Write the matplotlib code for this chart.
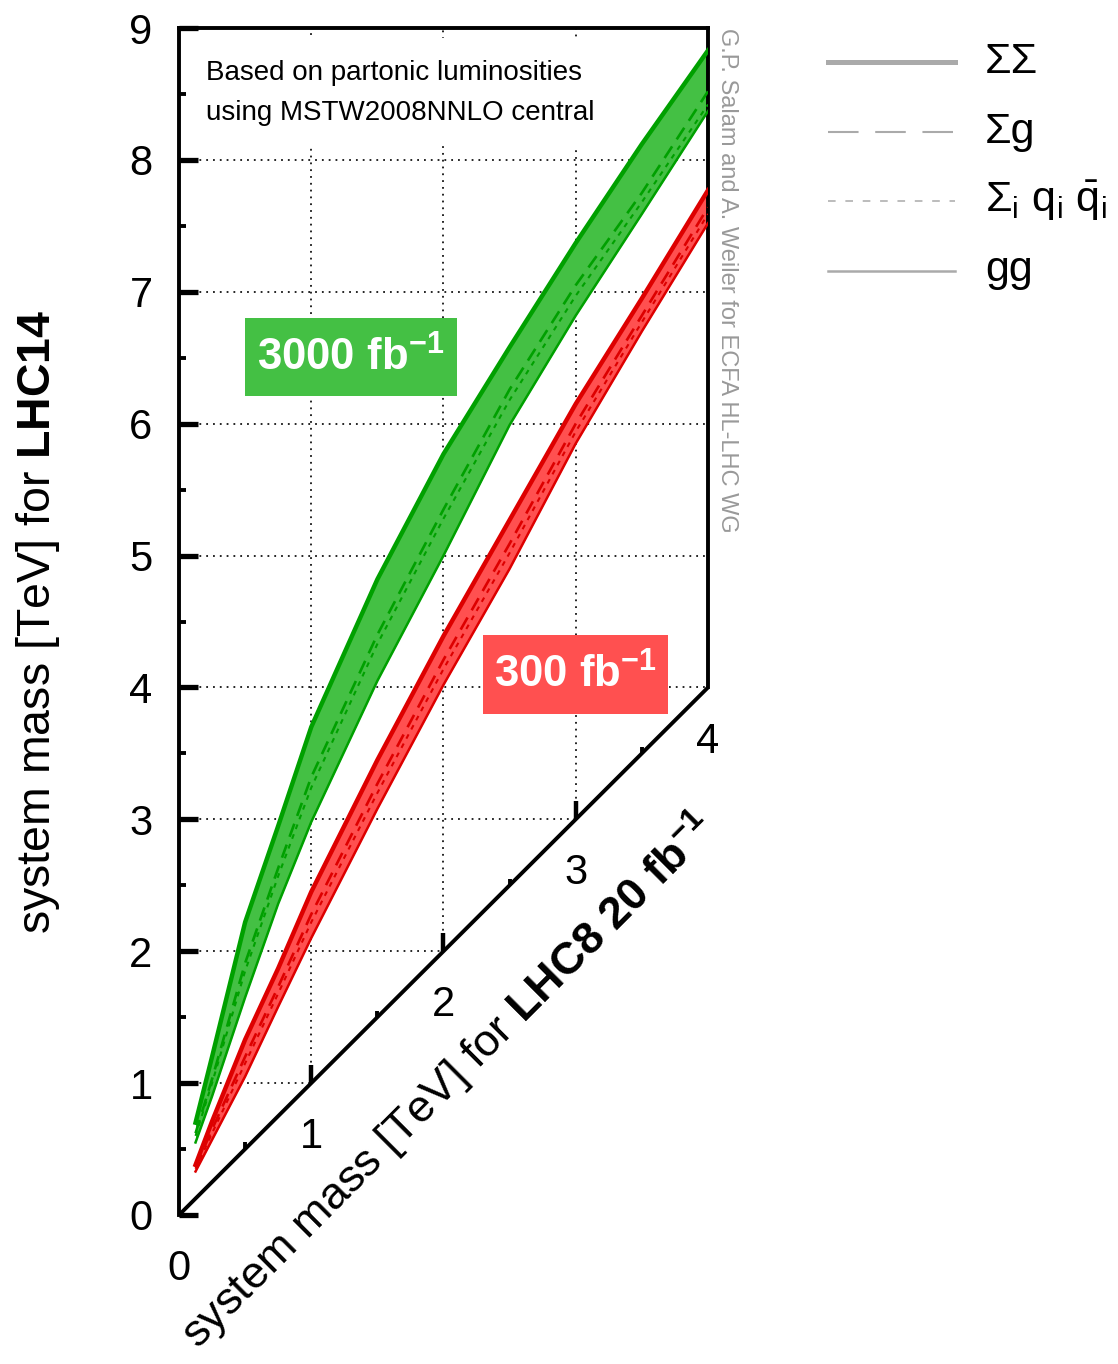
import matplotlib
matplotlib.use("Agg")
import matplotlib.pyplot as plt
from matplotlib.lines import Line2D
from matplotlib.patches import Rectangle

plt.rcParams['font.family'] = ['Liberation Sans', 'DejaVu Sans']
plt.rcParams['mathtext.fontset'] = 'custom'
plt.rcParams['mathtext.rm'] = 'Liberation Sans'
plt.rcParams['mathtext.it'] = 'Liberation Sans:italic'
plt.rcParams['mathtext.bf'] = 'Liberation Sans:bold'
plt.rcParams['lines.scale_dashes'] = False

# ---------------- data ----------------
# LHC8 (20 fb^-1) system mass [TeV]
m8 = [0.125, 0.25, 0.5, 0.75, 1.0, 1.5, 2.0, 2.5, 3.0, 3.5, 4.0]

# LHC14 3000 fb^-1 equivalent mass [TeV]
hl_SS = [0.70, 1.20, 2.22, 2.95, 3.70, 4.82, 5.77, 6.58, 7.37, 8.12, 8.83]
hl_Sg = [0.62, 1.03, 1.91, 2.63, 3.32, 4.40, 5.35, 6.26, 7.05, 7.75, 8.52]
hl_qq = [0.60, 1.00, 1.85, 2.57, 3.24, 4.33, 5.28, 6.18, 6.97, 7.68, 8.42]
hl_gg = [0.55, 0.90, 1.65, 2.36, 2.98, 4.05, 5.00, 5.99, 6.82, 7.59, 8.37]

# LHC14 300 fb^-1 equivalent mass [TeV]
lo_SS = [0.38, 0.71, 1.33, 1.87, 2.45, 3.45, 4.39, 5.27, 6.15, 6.95, 7.77]
lo_Sg = [0.36, 0.65, 1.20, 1.73, 2.28, 3.27, 4.21, 5.09, 6.00, 6.82, 7.64]
lo_qq = [0.35, 0.62, 1.15, 1.68, 2.22, 3.20, 4.14, 5.02, 5.94, 6.77, 7.59]
lo_gg = [0.33, 0.57, 1.05, 1.58, 2.10, 3.08, 4.02, 4.90, 5.85, 6.70, 7.52]

x_ticks = [0, 1, 2, 3, 4]
x_minor = [0.5, 1.5, 2.5, 3.5]
y_ticks = [0, 1, 2, 3, 4, 5, 6, 7, 8, 9]
y_minor = [0.5, 1.5, 2.5, 3.5, 4.5, 5.5, 6.5, 7.5, 8.5]

legend_labels = [r"ΣΣ", r"Σg",
                 r"$\Sigma_{\mathrm{i}}\ \mathrm{q}_{\mathrm{i}}\ \bar{\mathrm{q}}_{\mathrm{i}}$",
                 r"gg"]

# ---------------- figure ----------------
W, H = 1118, 1364
fig = plt.figure(figsize=(W / 100, H / 100), dpi=100)
ax = fig.add_axes([179 / W, 1 - 1215 / H, (708 - 179) / W, (1215 - 28) / H])
ax.set_xlim(x_ticks[0], x_ticks[-1])
ax.set_ylim(y_ticks[0], y_ticks[-1])

SPW = 2.8
for s in ['left', 'top', 'right']:
    ax.spines[s].set_linewidth(SPW)
ax.spines['bottom'].set_visible(False)
ax.spines['right'].set_bounds(x_ticks[-1], y_ticks[-1])

# diagonal x axis (y = x)
ax.plot([x_ticks[0], x_ticks[-1]], [x_ticks[0], x_ticks[-1]], color='k', lw=SPW,
        clip_on=False, solid_capstyle='butt', zorder=6)

# grid
grid_kw = dict(color='k', lw=1.2, linestyle=(0, (1.3, 3.6)), zorder=1)
for xv in x_ticks[1:-1]:
    ax.plot([xv, xv], [xv, y_ticks[-1]], **grid_kw)
for yv in y_ticks[1:-1]:
    ax.plot([0, min(yv, x_ticks[-1])], [yv, yv], **grid_kw)

# y ticks
ax.set_yticks(y_ticks)
ax.set_yticks(y_minor, minor=True)
ax.tick_params(axis='y', which='major', direction='in', length=14, width=3.8,
               labelsize=30, pad=19, left=True, right=False)
ax.tick_params(axis='y', which='minor', direction='in', length=5, width=2.8,
               left=True, right=False)
ax.set_xticks([])
ax.tick_params(axis='x', which='both', bottom=False, top=False, labelbottom=False)

# x ticks drawn on the diagonal (upward)
for xv in x_ticks[1:-1]:
    ax.plot([xv, xv], [xv, xv + 0.14], color='k', lw=3.2, solid_capstyle='butt', zorder=6)
for xv in x_minor:
    ax.plot([xv, xv], [xv, xv + 0.05], color='k', lw=2.8, solid_capstyle='butt', zorder=6)
for xv in x_ticks:
    ax.annotate(str(xv), xy=(xv, xv), xytext=(0, -39), textcoords='offset points',
                ha='center', va='center', fontsize=30, annotation_clip=False)

# white panel behind the annotation text (covers the grid)
ax.add_patch(Rectangle((192 / W, 1 - 146 / H), (602 - 192) / W, (146 - 38) / H,
                       transform=fig.transFigure, facecolor='white', edgecolor='none',
                       zorder=1.5))

# bands
GREEN_FILL, GREEN_LINE = '#44c044', '#00a000'
RED_FILL, RED_LINE = '#ff5050', '#dd0000'


def band(ss, sg, qq, gg, fill, line):
    lower = [min(a, b, c, d) for a, b, c, d in zip(ss, sg, qq, gg)]
    upper = [max(a, b, c, d) for a, b, c, d in zip(ss, sg, qq, gg)]
    ax.fill_between(m8, lower, upper, color=fill, lw=0, zorder=2)
    ax.plot(m8, ss, color=line, lw=3.2, zorder=3, solid_joinstyle='miter')
    ax.plot(m8, sg, color=line, lw=1.9, linestyle=(0, (10, 6)), zorder=3)
    ax.plot(m8, qq, color=line, lw=1.5, linestyle=(0, (3.5, 4)), zorder=3)
    ax.plot(m8, gg, color=line, lw=1.8, zorder=3)


band(hl_SS, hl_Sg, hl_qq, hl_gg, GREEN_FILL, GREEN_LINE)
band(lo_SS, lo_Sg, lo_qq, lo_gg, RED_FILL, RED_LINE)

# boxes with luminosity labels
for (x0, y0, x1, y1), col, txt in [((245, 318, 457, 396), GREEN_FILL, r"$\mathbf{3000\ fb^{-1}}$"),
                                   ((483, 635, 668, 714), RED_FILL, r"$\mathbf{300\ fb^{-1}}$")]:
    fig.add_artist(Rectangle((x0 / W, 1 - y1 / H), (x1 - x0) / W, (y1 - y0) / H,
                             transform=fig.transFigure, color=col, lw=0, zorder=5))
    fig.text((x0 + x1) / 2 / W, 1 - ((y0 + y1) / 2 + 1) / H, txt, color='white',
             ha='center', va='center', fontsize=31.5, zorder=6)

# annotation text
fig.text(206 / W, 1 - 73 / H, "Based on partonic luminosities", ha='left', va='center',
         fontsize=20)
fig.text(206 / W, 1 - 113 / H, "using MSTW2008NNLO central", ha='left', va='center',
         fontsize=20)

# credit
fig.text(727 / W, 1 - 28 / H, "G.P. Salam and A. Weiler for ECFA HL-LHC WG",
         rotation=-90, ha='center', va='top', fontsize=17, color='#999999')

# axis labels
fig.text(38 / W, 1 - 622 / H, r"system mass [TeV] for $\mathbf{LHC14}$", rotation=90,
         ha='center', va='center', fontsize=33.5)
fig.text(448 / W, 1 - 1081 / H, r"system mass [TeV] for $\mathbf{LHC8\ 20\ fb^{-1}}$",
         rotation=45, rotation_mode='anchor', ha='center', va='center', fontsize=32.5)

# legend (drawn manually outside the axes)
leg_styles = [dict(lw=3.6, linestyle='-'),
              dict(lw=1.5, linestyle=(0, (22, 12))),
              dict(lw=1.1, linestyle=(0, (5.5, 7))),
              dict(lw=1.8, linestyle='-')]
for i, (lab, st) in enumerate(zip(legend_labels, leg_styles)):
    yy = 1 - (62 + 69.5 * i) / H
    fig.add_artist(Line2D([828 / W, 955 / W], [yy, yy], transform=fig.transFigure,
                          color='#aaaaaa', **st))
    fig.text(985 / W, yy, lab, ha='left', va='center', fontsize=31)

fig.savefig("out.png", dpi=100)
